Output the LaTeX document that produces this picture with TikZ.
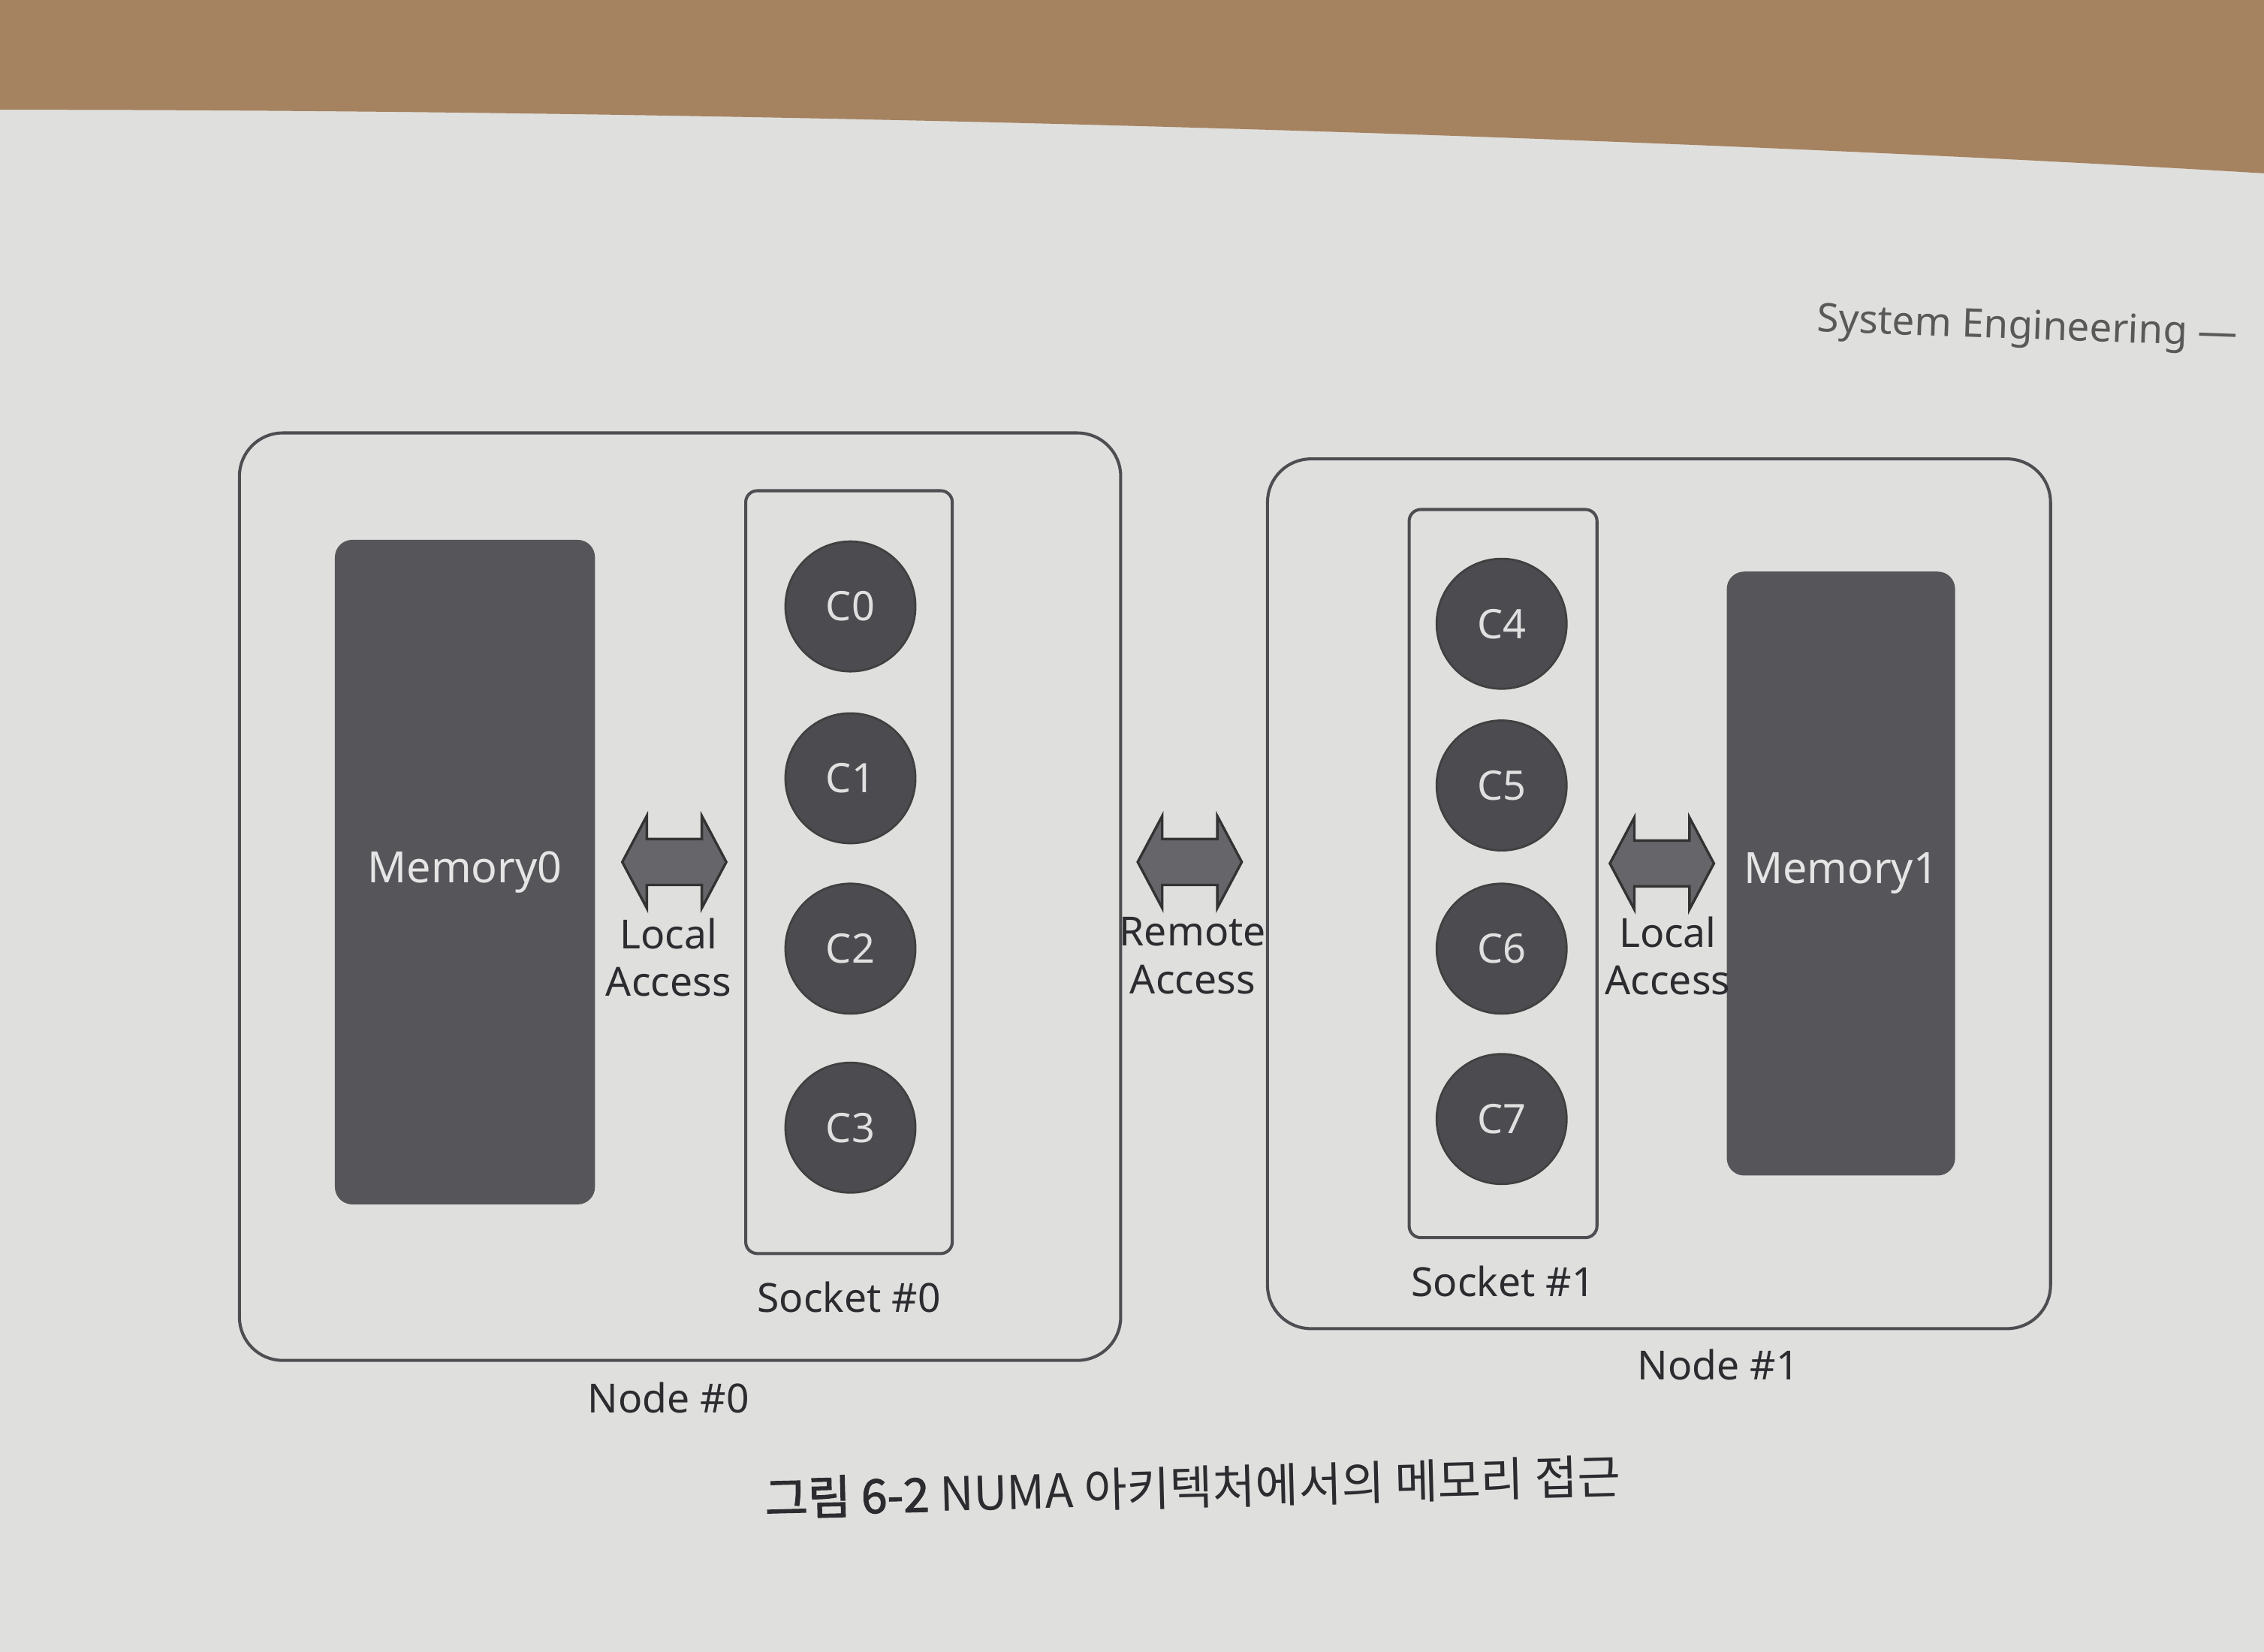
\documentclass[tikz,border=0pt]{standalone}
\usepackage{fontspec}
\setmainfont{Noto Sans}
\newfontfamily\kor{Noto Sans CJK KR}[AutoFakeBold=2]
\usetikzlibrary{shapes.arrows,positioning}

\definecolor{page}{HTML}{DFDFDD}
\definecolor{wood}{HTML}{A58260}
\definecolor{boxline}{HTML}{4E4E52}
\definecolor{memfill}{HTML}{55555A}
\definecolor{corefill}{HTML}{4B4B50}
\definecolor{ink}{HTML}{2C2C30}

\tikzset{
  numabox/.style={draw=boxline, line width=0.6pt, rounded corners=0.3cm, inner sep=0pt},
  memory/.style={fill=memfill, rounded corners=0.12cm, text=white!90!black,
    font=\fontsize{8.5}{10}\selectfont},
  socketbox/.style={draw=boxline, line width=0.6pt, rounded corners=0.08cm, inner sep=0pt},
  core/.style={circle, fill=corefill, draw=black!75, line width=0.4pt, minimum size=0.9cm,
    inner sep=0pt, text=white!88!black, font=\fontsize{8}{10}\selectfont},
  access/.style={double arrow, fill=corefill!85!white, draw=black!80, line width=0.5pt,
    double arrow head extend=0.16cm, double arrow tip angle=124,
    minimum height=0.72cm, minimum width=0.61cm, inner xsep=0pt, inner ysep=0.15cm},
  lbl/.style={text=ink, align=center, font=\fontsize{7.9}{9.4}\selectfont},
}

\begin{document}
\begin{tikzpicture}[x=0.01cm, y=-0.01cm]
  \useasboundingbox (0,0) rectangle (1568,1144);

  % Pagina e mesa
  \fill[page] (0,0) rectangle (1568,1144);
  \fill[wood] (0,0) -- (1568,0) -- (1568,120) .. controls (1100,92) and (500,76) .. (0,76) -- cycle;

  % Cabecalho
  \node[text=black!65, font=\fontsize{7.8}{10}\selectfont, rotate=-2] (header) at (1404,228) {System Engineering ---};

  % Node #0
  \node[numabox, minimum width=6.1cm, minimum height=6.42cm] (node0) at (471,621) {};
  \node[memory, minimum width=1.8cm, minimum height=4.6cm] (mem0) at (322,604) {Memory0};
  \node[socketbox, minimum width=1.43cm, minimum height=5.28cm] (sock0) at (588,604) {};
  \node[lbl, below=0.06cm of sock0] (sock0lbl) {Socket \#0};

  % Nucleos do Socket #0
  \foreach \y/\name in {420/0,539/1,657/2,781/3} {
    \node[core] (c\name) at (589,\y) {C\name};
  }

  % Node #1
  \node[numabox, minimum width=5.42cm, minimum height=6.02cm] (node1) at (1149,619) {};
  \node[socketbox, minimum width=1.3cm, minimum height=5.04cm] (sock1) at (1041,605) {};
  \node[lbl, below=0.06cm of sock1] (sock1lbl) {Socket \#1};
  \node[memory, minimum width=1.52cm, minimum height=4.18cm] (mem1) at (1275,605) {Memory1};

  % Nucleos do Socket #1
  \foreach \y/\name in {432/4,544/5,657/6,775/7} {
    \node[core] (c\name) at (1040,\y) {C\name};
  }

  % Setas de acesso
  \node[access] (local0) at (467,597) {};
  \node[lbl] (local0lbl) at (463,663) {Local\\Access};
  \node[access] (remote) at (824,597) {};
  \node[lbl] (remotelbl) at (826,662) {Remote\\Access};
  \node[access] (local1) at (1151,598) {};
  \node[lbl] (local1lbl) at (1155,662) {Local\\Access};

  % Legendas
  \node[lbl] (node0lbl) at (463,968) {Node \#0};
  \node[lbl] (node1lbl) at (1190,945) {Node \#1};
  \node[text=ink, font=\kor\fontsize{9.2}{12}\selectfont, rotate=1.5] (caption) at (826,1030)
    {\textbf{그림 6-2} NUMA 아키텍처에서의 메모리 접근};
\end{tikzpicture}
\end{document}
